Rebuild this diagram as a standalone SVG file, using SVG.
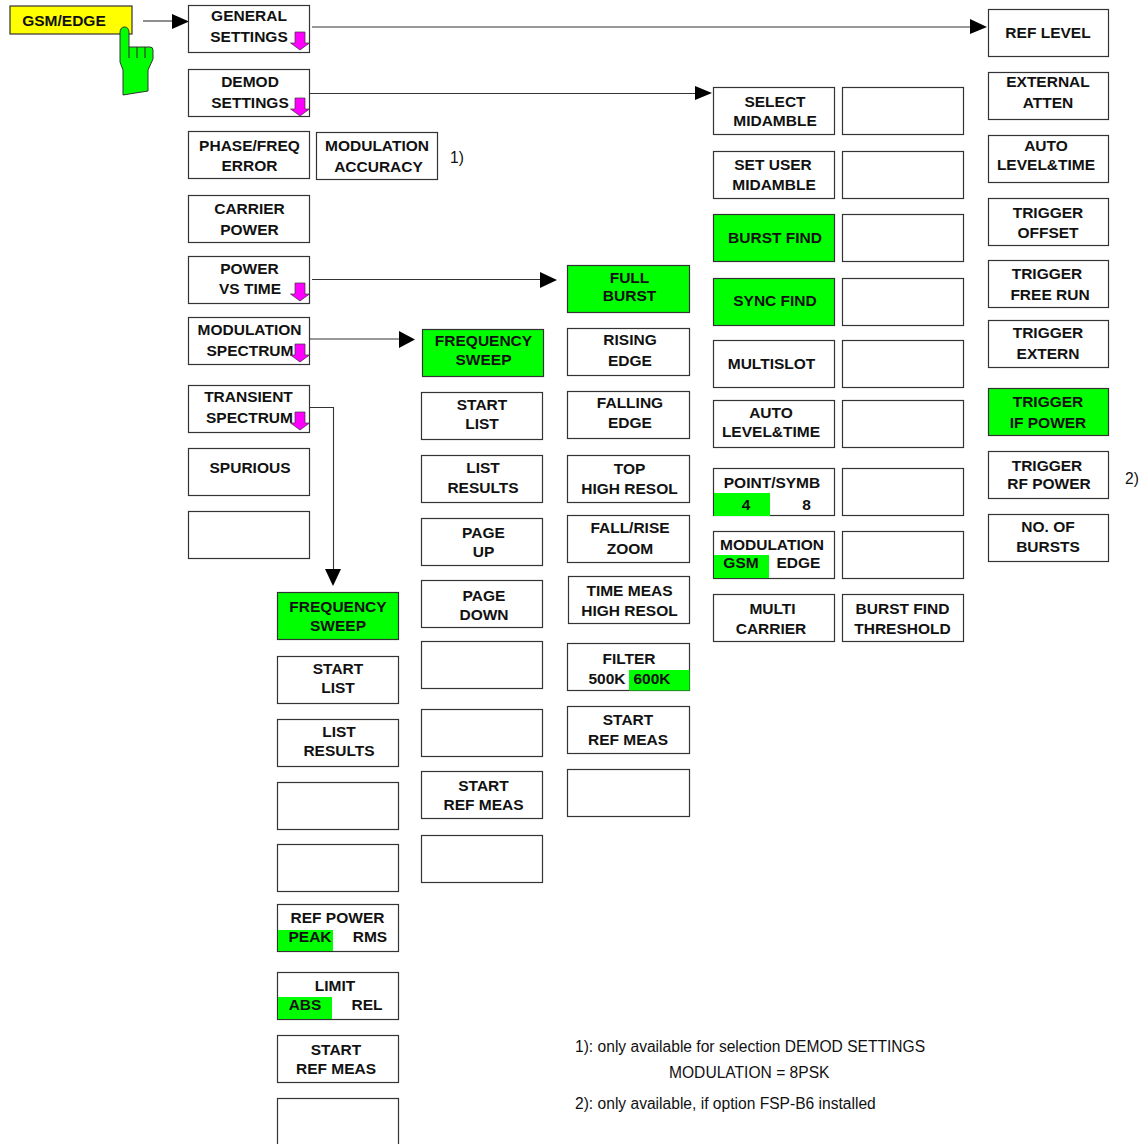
<svg xmlns="http://www.w3.org/2000/svg" width="1143" height="1144" viewBox="0 0 1143 1144">
<style>
.b{fill:#fff;stroke:#333;stroke-width:1.2}
.g{fill:#00ff00;stroke:#333;stroke-width:1.2}
.y{fill:#ffff00;stroke:#333;stroke-width:1.2}
.f{fill:#00ff00}
text{font-family:"Liberation Sans",Arial,sans-serif;font-size:15.5px;font-weight:700;fill:#111;text-anchor:middle;transform:translateY(-.7px)}
text.n{font-size:15.6px;font-weight:400;text-anchor:start;transform:none}
.c{fill:none;stroke:#333;stroke-width:1.1}
.h{fill:#000}
.m{fill:#ff00ff;stroke:#333;stroke-width:.7}
</style>
<defs>
<path id="d" class="m" d="M-5 -8H5V3H9.500L0 10L-9.500 3H-5Z"/>
</defs>
<g id="connectors">
<path class="c" d="M143 21H173"/><path class="h" d="M172 14L189 21.500L172 29Z"/>
<path class="c" d="M312 27H971"/><path class="h" d="M970 19L987 27L970 34Z"/>
<path class="c" d="M310 93.500H696"/><path class="h" d="M695 86L712 93L695 100Z"/>
<path class="c" d="M312 279.500H541"/><path class="h" d="M540 272L557 280L540 288Z"/>
<path class="c" d="M310 339H399"/><path class="h" d="M399 331L415 339.500L399 348Z"/>
<path class="c" d="M310 407.500H333.500V570"/><path class="h" d="M325 569H341L333 586Z"/>
</g>
<g id="gsm-edge"><rect class="y" x="10" y="6" width="122" height="28"/><text x="64" y="27">GSM/EDGE</text></g>
<g id="hand"><path fill="#00ff00" stroke="#333" stroke-width="1" d="M120 33Q120 27 124.500 27Q129 27 129 33V47H150Q153 47 153 50V59L148 70V91L123 95V70L120 62Z"/><path class="c" d="M129 47V58M137 47V58M145 47V58"/></g>
<g id="general-settings"><rect class="b" x="188.500" y="5.500" width="121" height="47"/><text x="249" y="22">GENERAL</text><text x="249" y="43">SETTINGS</text><use href="#d" x="300" y="40"/></g>
<g id="demod-settings"><rect class="b" x="188.500" y="69.500" width="121" height="47"/><text x="250" y="88">DEMOD</text><text x="250" y="109">SETTINGS</text><use href="#d" x="300" y="106"/></g>
<g id="phase-freq"><rect class="b" x="188.500" y="131.500" width="121" height="47"/><text x="249.500" y="152">PHASE/FREQ</text><text x="249.500" y="172">ERROR</text></g>
<g id="modulation-accuracy"><rect class="b" x="316.500" y="132.500" width="121" height="47"/><text x="377" y="152">MODULATION</text><text x="378.500" y="173">ACCURACY</text></g>
<g id="carrier-power"><rect class="b" x="188.500" y="195.500" width="121" height="47"/><text x="249.500" y="215">CARRIER</text><text x="249.500" y="236">POWER</text></g>
<g id="power-vs-time"><rect class="b" x="188.500" y="256.500" width="121" height="47"/><text x="249.500" y="275">POWER</text><text x="250" y="295">VS TIME</text><use href="#d" x="300" y="291"/></g>
<g id="modulation-spectrum"><rect class="b" x="188.500" y="317.500" width="121" height="47"/><text x="249.500" y="336">MODULATION</text><text x="250" y="357">SPECTRUM</text><use href="#d" x="300" y="352"/></g>
<g id="transient-spectrum"><rect class="b" x="188.500" y="385.500" width="121" height="47"/><text x="248.500" y="403">TRANSIENT</text><text x="249.500" y="424">SPECTRUM</text><use href="#d" x="300" y="420"/></g>
<g id="spurious"><rect class="b" x="188.500" y="448.500" width="121" height="47"/><text x="250" y="474">SPURIOUS</text></g>
<g id="col1-empty"><rect class="b" x="188.500" y="511.500" width="121" height="47"/></g>

<g id="ms-frequency-sweep"><rect class="g" x="422.500" y="329.500" width="121" height="47"/><text x="483.500" y="347">FREQUENCY</text><text x="483.500" y="366">SWEEP</text></g>
<g id="ms-start-list"><rect class="b" x="421.500" y="392.500" width="121" height="47"/><text x="482" y="411">START</text><text x="482" y="430">LIST</text></g>
<g id="ms-list-results"><rect class="b" x="421.500" y="455.500" width="121" height="47"/><text x="483" y="474">LIST</text><text x="483" y="494">RESULTS</text></g>
<g id="ms-page-up"><rect class="b" x="421.500" y="518.500" width="121" height="47"/><text x="483.500" y="539">PAGE</text><text x="483.500" y="558">UP</text></g>
<g id="ms-page-down"><rect class="b" x="421.500" y="580.500" width="121" height="47"/><text x="484" y="602">PAGE</text><text x="484" y="621">DOWN</text></g>
<g id="ms-empty-1"><rect class="b" x="421.500" y="641.500" width="121" height="47"/></g>
<g id="ms-empty-2"><rect class="b" x="421.500" y="709.500" width="121" height="47"/></g>
<g id="ms-start-ref"><rect class="b" x="421.500" y="771.500" width="121" height="47"/><text x="483.500" y="792">START</text><text x="483.500" y="811">REF MEAS</text></g>
<g id="ms-empty-3"><rect class="b" x="421.500" y="835.500" width="121" height="47"/></g>

<g id="full-burst"><rect class="g" x="567.500" y="265.500" width="122" height="47"/><text x="629.500" y="284">FULL</text><text x="629.500" y="302">BURST</text></g>
<g id="rising-edge"><rect class="b" x="567.500" y="328.500" width="122" height="47"/><text x="630" y="346">RISING</text><text x="630" y="367">EDGE</text></g>
<g id="falling-edge"><rect class="b" x="567.500" y="391.500" width="122" height="47"/><text x="630" y="409">FALLING</text><text x="630" y="429">EDGE</text></g>
<g id="top-high-resol"><rect class="b" x="567.500" y="455.500" width="122" height="47"/><text x="629.500" y="475">TOP</text><text x="629.500" y="495">HIGH RESOL</text></g>
<g id="fall-rise-zoom"><rect class="b" x="567.500" y="515.500" width="122" height="47"/><text x="630" y="534">FALL/RISE</text><text x="630" y="555">ZOOM</text></g>
<g id="time-meas"><rect class="b" x="568.500" y="576.500" width="121" height="47"/><text x="629.500" y="597">TIME MEAS</text><text x="629.500" y="617">HIGH RESOL</text></g>
<g id="filter"><rect class="b" x="567.500" y="643.500" width="122" height="47"/><rect class="f" x="629" y="670" width="60.500" height="20.500"/><text x="629" y="665">FILTER</text><text x="607" y="685">500K</text><text x="652" y="685">600K</text></g>
<g id="pvt-start-ref"><rect class="b" x="567.500" y="706.500" width="122" height="47"/><text x="628" y="726">START</text><text x="628" y="746">REF MEAS</text></g>
<g id="pvt-empty"><rect class="b" x="567.500" y="769.500" width="122" height="47"/></g>

<g id="select-midamble"><rect class="b" x="713.500" y="87.500" width="121" height="47"/><text x="775" y="108">SELECT</text><text x="775" y="127">MIDAMBLE</text></g>
<g id="set-user-midamble"><rect class="b" x="713.500" y="151.500" width="121" height="47"/><text x="773" y="171">SET USER</text><text x="774" y="191">MIDAMBLE</text></g>
<g id="burst-find"><rect class="g" x="713.500" y="214.500" width="121" height="47"/><text x="775" y="244">BURST FIND</text></g>
<g id="sync-find"><rect class="g" x="713.500" y="278.500" width="121" height="47"/><text x="775" y="307">SYNC FIND</text></g>
<g id="multislot"><rect class="b" x="713.500" y="340.500" width="121" height="47"/><text x="771.500" y="370">MULTISLOT</text></g>
<g id="auto-level-time-2"><rect class="b" x="713.500" y="400.500" width="121" height="47"/><text x="771" y="419">AUTO</text><text x="771" y="438">LEVEL&amp;TIME</text></g>
<g id="point-symb"><rect class="b" x="713.500" y="468.500" width="121" height="47"/><rect class="f" x="714" y="493" width="56" height="23"/><text x="772" y="489">POINT/SYMB</text><text x="746" y="511">4</text><text x="806.500" y="511">8</text></g>
<g id="modulation-gsm-edge"><rect class="b" x="713.500" y="531.500" width="121" height="47"/><rect class="f" x="714" y="555" width="55" height="23"/><text x="772" y="551">MODULATION</text><text x="741" y="569">GSM</text><text x="798.500" y="569">EDGE</text></g>
<g id="multi-carrier"><rect class="b" x="713.500" y="594.500" width="121" height="47"/><text x="772.500" y="615">MULTI</text><text x="771" y="635">CARRIER</text></g>
<g id="m2-empty-1"><rect class="b" x="842.500" y="87.500" width="121" height="47"/></g>
<g id="m2-empty-2"><rect class="b" x="842.500" y="151.500" width="121" height="47"/></g>
<g id="m2-empty-3"><rect class="b" x="842.500" y="214.500" width="121" height="47"/></g>
<g id="m2-empty-4"><rect class="b" x="842.500" y="278.500" width="121" height="47"/></g>
<g id="m2-empty-5"><rect class="b" x="842.500" y="340.500" width="121" height="47"/></g>
<g id="m2-empty-6"><rect class="b" x="842.500" y="400.500" width="121" height="47"/></g>
<g id="m2-empty-7"><rect class="b" x="842.500" y="468.500" width="121" height="47"/></g>
<g id="m2-empty-8"><rect class="b" x="842.500" y="531.500" width="121" height="47"/></g>
<g id="burst-find-threshold"><rect class="b" x="842.500" y="594.500" width="121" height="47"/><text x="902.500" y="615">BURST FIND</text><text x="902.500" y="635">THRESHOLD</text></g>

<g id="ref-level"><rect class="b" x="988.500" y="9.500" width="120" height="47"/><text x="1048" y="39">REF LEVEL</text></g>
<g id="external-atten"><rect class="b" x="988.500" y="72.500" width="120" height="47"/><text x="1048" y="88">EXTERNAL</text><text x="1048" y="109">ATTEN</text></g>
<g id="auto-level-time"><rect class="b" x="988.500" y="135.500" width="120" height="47"/><text x="1046" y="152">AUTO</text><text x="1046" y="171">LEVEL&amp;TIME</text></g>
<g id="trigger-offset"><rect class="b" x="988.500" y="198.500" width="120" height="47"/><text x="1048" y="219">TRIGGER</text><text x="1048" y="239">OFFSET</text></g>
<g id="trigger-free-run"><rect class="b" x="988.500" y="260.500" width="120" height="47"/><text x="1047" y="280">TRIGGER</text><text x="1050" y="301">FREE RUN</text></g>
<g id="trigger-extern"><rect class="b" x="988.500" y="320.500" width="120" height="47"/><text x="1048" y="339">TRIGGER</text><text x="1048" y="360">EXTERN</text></g>
<g id="trigger-if-power"><rect class="g" x="988.500" y="388.500" width="120" height="47"/><text x="1048" y="408">TRIGGER</text><text x="1048" y="429">IF POWER</text></g>
<g id="trigger-rf-power"><rect class="b" x="988.500" y="451.500" width="120" height="47"/><text x="1047" y="472">TRIGGER</text><text x="1049" y="490">RF POWER</text></g>
<g id="no-of-bursts"><rect class="b" x="988.500" y="514.500" width="120" height="47"/><text x="1048" y="533">NO. OF</text><text x="1048" y="553">BURSTS</text></g>

<g id="ts-frequency-sweep"><rect class="g" x="277.500" y="592.500" width="121" height="47"/><text x="338" y="613">FREQUENCY</text><text x="338" y="632">SWEEP</text></g>
<g id="ts-start-list"><rect class="b" x="277.500" y="656.500" width="121" height="47"/><text x="338" y="675">START</text><text x="338" y="694">LIST</text></g>
<g id="ts-list-results"><rect class="b" x="277.500" y="719.500" width="121" height="47"/><text x="339" y="738">LIST</text><text x="339" y="757">RESULTS</text></g>
<g id="ts-empty-1"><rect class="b" x="277.500" y="782.500" width="121" height="47"/></g>
<g id="ts-empty-2"><rect class="b" x="277.500" y="844.500" width="121" height="47"/></g>
<g id="ref-power"><rect class="b" x="277.500" y="904.500" width="121" height="47"/><rect class="f" x="278" y="930" width="55" height="21"/><text x="337.500" y="924">REF POWER</text><text x="310" y="943">PEAK</text><text x="370" y="943">RMS</text></g>
<g id="limit"><rect class="b" x="277.500" y="972.500" width="121" height="47"/><rect class="f" x="278" y="997" width="54" height="22"/><text x="335" y="992">LIMIT</text><text x="305" y="1011">ABS</text><text x="367" y="1011">REL</text></g>
<g id="ts-start-ref"><rect class="b" x="277.500" y="1035.500" width="121" height="47"/><text x="336" y="1056">START</text><text x="336" y="1075">REF MEAS</text></g>
<g id="ts-empty-3"><rect class="b" x="277.500" y="1098.500" width="121" height="47"/></g>

<g id="notes">
<text class="n" x="450" y="163">1)</text>
<text class="n" x="1125" y="484">2)</text>
<text class="n" x="575" y="1052">1): only available for selection DEMOD SETTINGS</text>
<text class="n" x="669" y="1078">MODULATION = 8PSK</text>
<text class="n" x="575" y="1109">2): only available, if option FSP-B6 installed</text>
</g>
</svg>
